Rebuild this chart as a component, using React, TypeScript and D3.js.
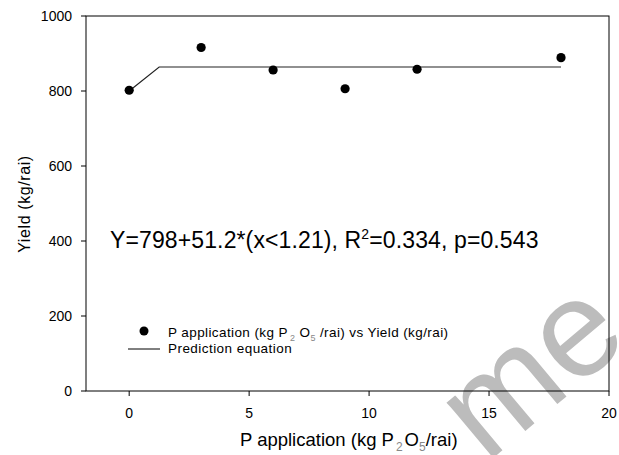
import React from "react";
import * as d3 from "d3";

const pApplication = [0, 3, 6, 9, 12, 18];
const yieldValues = [802, 916, 856, 806, 858, 889];
const predictionX = [0, 1.25, 18];
const predictionY = [800, 864, 864];
const xTicks = [0, 5, 10, 15, 20];
const yTicks = [0, 200, 400, 600, 800, 1000];

const W = 619;
const H = 455;
const FONT = "'Liberation Sans', Arial, sans-serif";

export default function App() {
  const x = d3.scaleLinear().domain([-1.8, 20]).range([86, 609]);
  const y = d3.scaleLinear().domain([0, 1000]).range([391, 16]);
  const pts = pApplication.map((p, i) => [p, yieldValues[i]] as [number, number]);
  const pred = predictionX.map((p, i) => [p, predictionY[i]] as [number, number]);
  const line = d3.line<[number, number]>().x((d) => x(d[0])).y((d) => y(d[1]));

  const [x0, x1] = x.range();
  const [y0, y1] = y.range();

  return (
    <svg
      width={W}
      height={H}
      style={{ position: "absolute", left: 0, top: 0, background: "#fff" }}
      fontFamily={FONT}
    >
      <defs>
        <clipPath id="clipAll">
          <rect x={0} y={0} width={W} height={H} />
        </clipPath>
      </defs>
      <rect x={0} y={0} width={W} height={H} fill="#fff" />
      {/* y tick labels */}
      {yTicks.map((t) => (
        <text key={"yl" + t} x={72} y={y(t) + 5} fontSize={14} textAnchor="end" fill="#000">
          {t}
        </text>
      ))}
      {/* x tick labels */}
      {xTicks.map((t) => (
        <text key={"xl" + t} x={x(t)} y={y0 + 27} fontSize={14} textAnchor="middle" fill="#000">
          {t}
        </text>
      ))}
      {/* watermark */}
      <g clipPath="url(#clipAll)">
        <text transform="translate(486,464) rotate(-40)" fontSize={137} fill="#bcbcbc">
          me
        </text>
      </g>
      {/* frame */}
      <rect x={x0} y={y1} width={x1 - x0} height={y0 - y1} fill="none" stroke="#000" strokeWidth={1} />
      {/* ticks */}
      {yTicks.map((t) => (
        <line key={"yt" + t} x1={x0 - 5} x2={x0} y1={y(t)} y2={y(t)} stroke="#000" />
      ))}
      {xTicks.map((t) => (
        <line key={"xt" + t} x1={x(t)} x2={x(t)} y1={y0} y2={y0 + 5} stroke="#000" />
      ))}
      {/* prediction line */}
      <path d={line(pred) || ""} fill="none" stroke="#222" strokeWidth={1.2} />
      {/* points */}
      {pts.map((d, i) => (
        <circle key={i} cx={x(d[0])} cy={y(d[1])} r={4.6} fill="#000" />
      ))}
      {/* equation */}
      <text x={110} y={248} fontSize={23} letterSpacing={0.12} fill="#000">
        Y=798+51.2*(x&lt;1.21), R<tspan dy={-9} fontSize={14}>2</tspan>
        <tspan dy={9}>=0.334, p=0.543</tspan>
      </text>
      {/* legend */}
      <circle cx={144} cy={331} r={4.5} fill="#000" />
      <text x={168} y={337} fontSize={13.5} letterSpacing={0.4} fill="#000">
        P application (kg P<tspan dx={2} dy={4} fontSize={9} fill="#888">2</tspan>
        <tspan dy={-4}> O</tspan>
        <tspan dy={4} fontSize={9} fill="#888">5</tspan>
        <tspan dy={-4}> /rai) vs Yield (kg/rai)</tspan>
      </text>
      <line x1={128} x2={160} y1={349} y2={349} stroke="#000" />
      <text x={168} y={353} fontSize={13.5} letterSpacing={0.45} fill="#000">
        Prediction equation
      </text>
      {/* axis titles */}
      <text x={240} y={446} fontSize={18.5} fill="#000">
        P application (kg P<tspan dx={2} dy={5} fontSize={12} fill="#888">2</tspan>
        <tspan dx={2} dy={-5}>O</tspan>
        <tspan dy={5} fontSize={12} fill="#888">5</tspan>
        <tspan dy={-5}>/rai)</tspan>
      </text>
      <text
        transform="translate(30,204) rotate(-90)"
        fontSize={16}
        letterSpacing={0.6}
        textAnchor="middle"
        fill="#000"
      >
        Yield (kg/rai)
      </text>
    </svg>
  );
}
